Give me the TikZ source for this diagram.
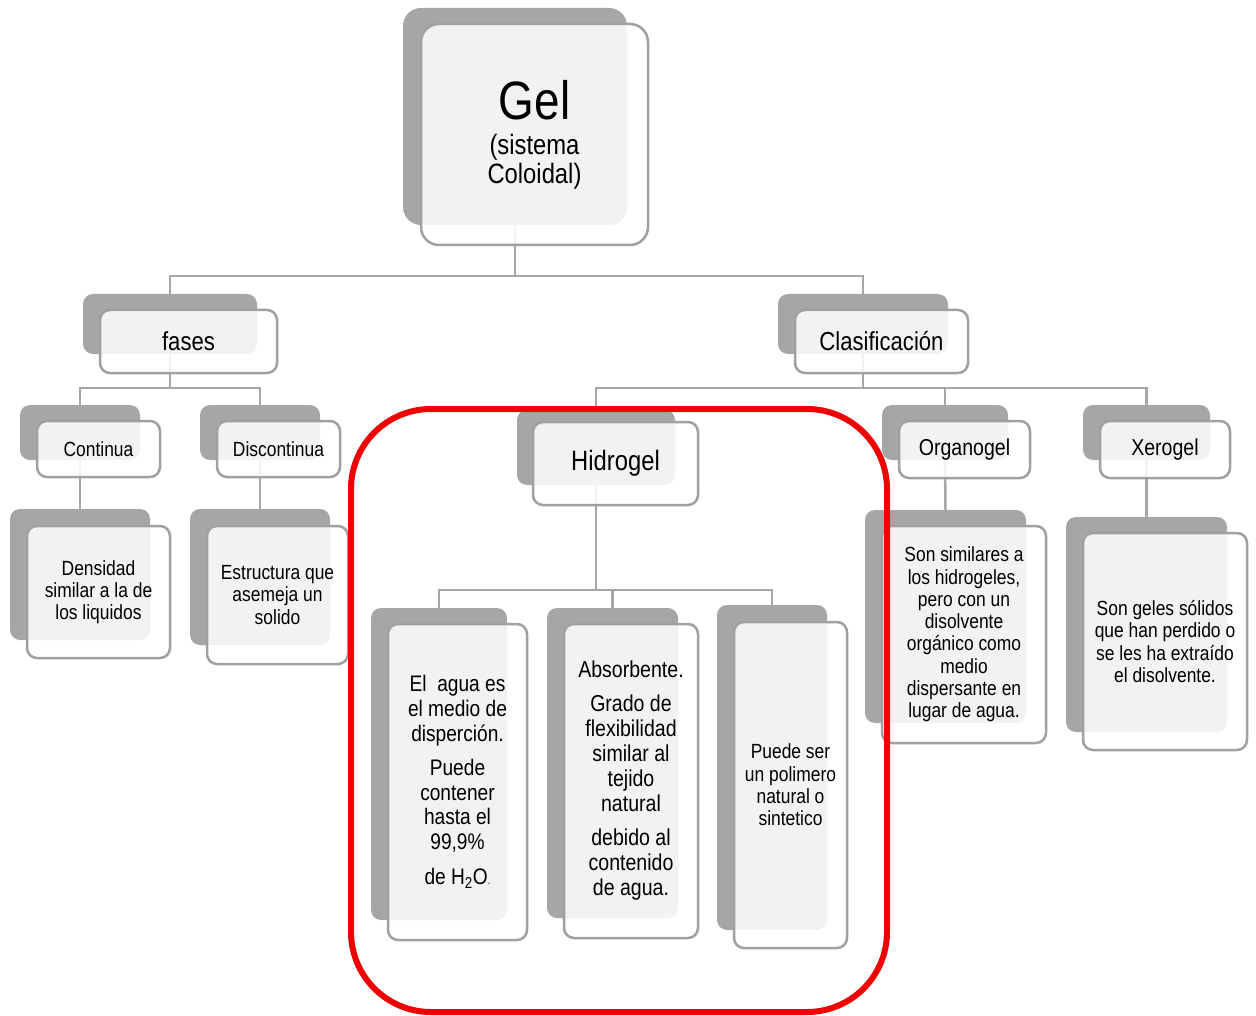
\documentclass[tikz,border=0pt]{standalone}
\usepackage{fontspec}
\setmainfont{Liberation Sans}[FakeStretch=0.85]
\usepackage{tikz}
\definecolor{shade}{HTML}{A6A6A6}
\definecolor{rim}{HTML}{A0A0A0}
\definecolor{redline}{HTML}{F00000}

\begin{document}
\begin{tikzpicture}[
  x=1pt, y=-1pt,
  back/.style={fill=shade, rounded corners=10pt, inner sep=0pt},
  front/.style={draw=rim, line width=2.5pt, fill=white, fill opacity=0.86,
                text opacity=1, rounded corners=10pt, inner sep=0pt, align=center},
  sz/.style 2 args={minimum width=#1pt, minimum height=#2pt},
  link/.style={draw=shade, line width=2.5pt},
  big/.style={font=\fontsize{26}{28}\selectfont},
  mid/.style={font=\fontsize{23}{25}\selectfont},
  small/.style={font=\fontsize{20.5}{22.3}\selectfont}
]
\useasboundingbox (0,0) rectangle (1256,1016);

% back plates
\node[back, rounded corners=18pt, sz={224}{217}] (gel) at (515,116.5) {};
\node[back, sz={174}{60}] (fases) at (170,324) {};
\node[back, sz={170}{60}] (clas) at (863,324) {};
\node[back, sz={120}{55}] (cont) at (80,432.5) {};
\node[back, sz={120}{55}] (disc) at (260,432.5) {};
\node[back, sz={140}{131}] (dens) at (80,574.5) {};
\node[back, sz={140}{136}] (estr) at (260,577) {};
\node[back, sz={158}{75}] (hidro) at (596,447.5) {};
\node[back, sz={126}{55}] (organo) at (945,432.5) {};
\node[back, sz={127}{55}] (xero) at (1146.5,432.5) {};
\node[back, sz={161}{213}] (simil) at (945.5,616.5) {};
\node[back, sz={161}{215}] (geles) at (1146.5,624.5) {};
\node[back, sz={136}{312}] (agua) at (439,764) {};
\node[back, sz={131}{310}] (absorb) at (612.5,763) {};
\node[back, sz={110}{325}] (puede) at (772,767.5) {};

% tree links
\draw[link] (gel.south) -- ++(0,51) -| (fases.north);
\draw[link] (gel.south) -- ++(0,51) -| (clas.north);
\draw[link] (fases.south) -- ++(0,34) -| (cont.north);
\draw[link] (fases.south) -- ++(0,34) -| (disc.north);
\draw[link] (cont.south) -- (dens.north);
\draw[link] (disc.south) -- (estr.north);
\draw[link] (clas.south) -- ++(0,34) -| (hidro.north);
\draw[link] (clas.south) -- ++(0,34) -| (organo.north);
\draw[link] (clas.south) -- ++(0,34) -| (xero.north);
\draw[link] (organo.south) -- (simil.north);
\draw[link] (xero.south) -- (geles.north);
\draw[link] (hidro.south) -- ++(0,105) -| (agua.north);
\draw[link] (hidro.south) -- ++(0,105) -| (absorb.north);
\draw[link] (hidro.south) -- ++(0,105) -| (puede.north);

% front cards
\node[front, rounded corners=18pt, font=\fontsize{28}{29}\selectfont, sz={227}{221}] (gel-f) at (534.5,134.5)
  {{\fontsize{54}{58}\selectfont Gel}\\[6pt](sistema\\Coloidal)};
\node[front, big, sz={177}{63}] (fases-f) at (188.5,341.5) {fases};
\node[front, big, sz={173}{63}] (clas-f) at (881.5,341.5) {Clasificación};
\node[front, small, sz={123}{56}] (cont-f) at (98.5,449) {Continua};
\node[front, small, sz={123}{56}] (disc-f) at (278.5,449) {Discontinua};
\node[front, small, sz={143}{132}] (dens-f) at (98.5,592)
  {Densidad\\similar a la de\\los liquidos};
\node[front, small, sz={141}{138}] (estr-f) at (277.5,595)
  {Estructura que\\asemeja un\\solido};
\node[front, font=\fontsize{28}{30}\selectfont, sz={165}{83}] (hidro-f) at (615.5,463.5) {Hidrogel};
\node[front, mid, sz={131}{57}] (organo-f) at (964.5,449.5) {Organogel};
\node[front, mid, sz={130}{57}] (xero-f) at (1165,449.5) {Xerogel};
\node[front, small, sz={164}{217}] (simil-f) at (964,634.5)
  {Son similares a\\los hidrogeles,\\pero con un\\disolvente\\orgánico como\\medio\\dispersante en\\lugar de agua.};
\node[front, small, sz={164}{217}] (geles-f) at (1165,641.5)
  {Son geles sólidos\\que han perdido o\\se les ha extraído\\el disolvente.};
\node[front, font=\fontsize{22.5}{24.8}\selectfont, sz={139}{316}] (agua-f) at (457.5,782)
  {El\ \ agua es\\el medio de\\disperción.\\[9pt]Puede\\contener\\hasta el\\99,9\%\\[10pt]de H\textsubscript{2}O{\fontsize{11}{11}\selectfont.}};
\node[front, mid, sz={134}{314}] (absorb-f) at (631,781)
  {Absorbente.\\[9pt]Grado de\\flexibilidad\\similar al\\tejido\\natural\\[9pt]debido al\\contenido\\de agua.};
\node[front, small, sz={113}{326}] (puede-f) at (790.5,785)
  {Puede ser\\un polimero\\natural o\\sintetico};

% highlight
\draw[draw=redline, line width=6pt, rounded corners=80pt] (351,409) rectangle (887,1012);
\end{tikzpicture}
\end{document}
